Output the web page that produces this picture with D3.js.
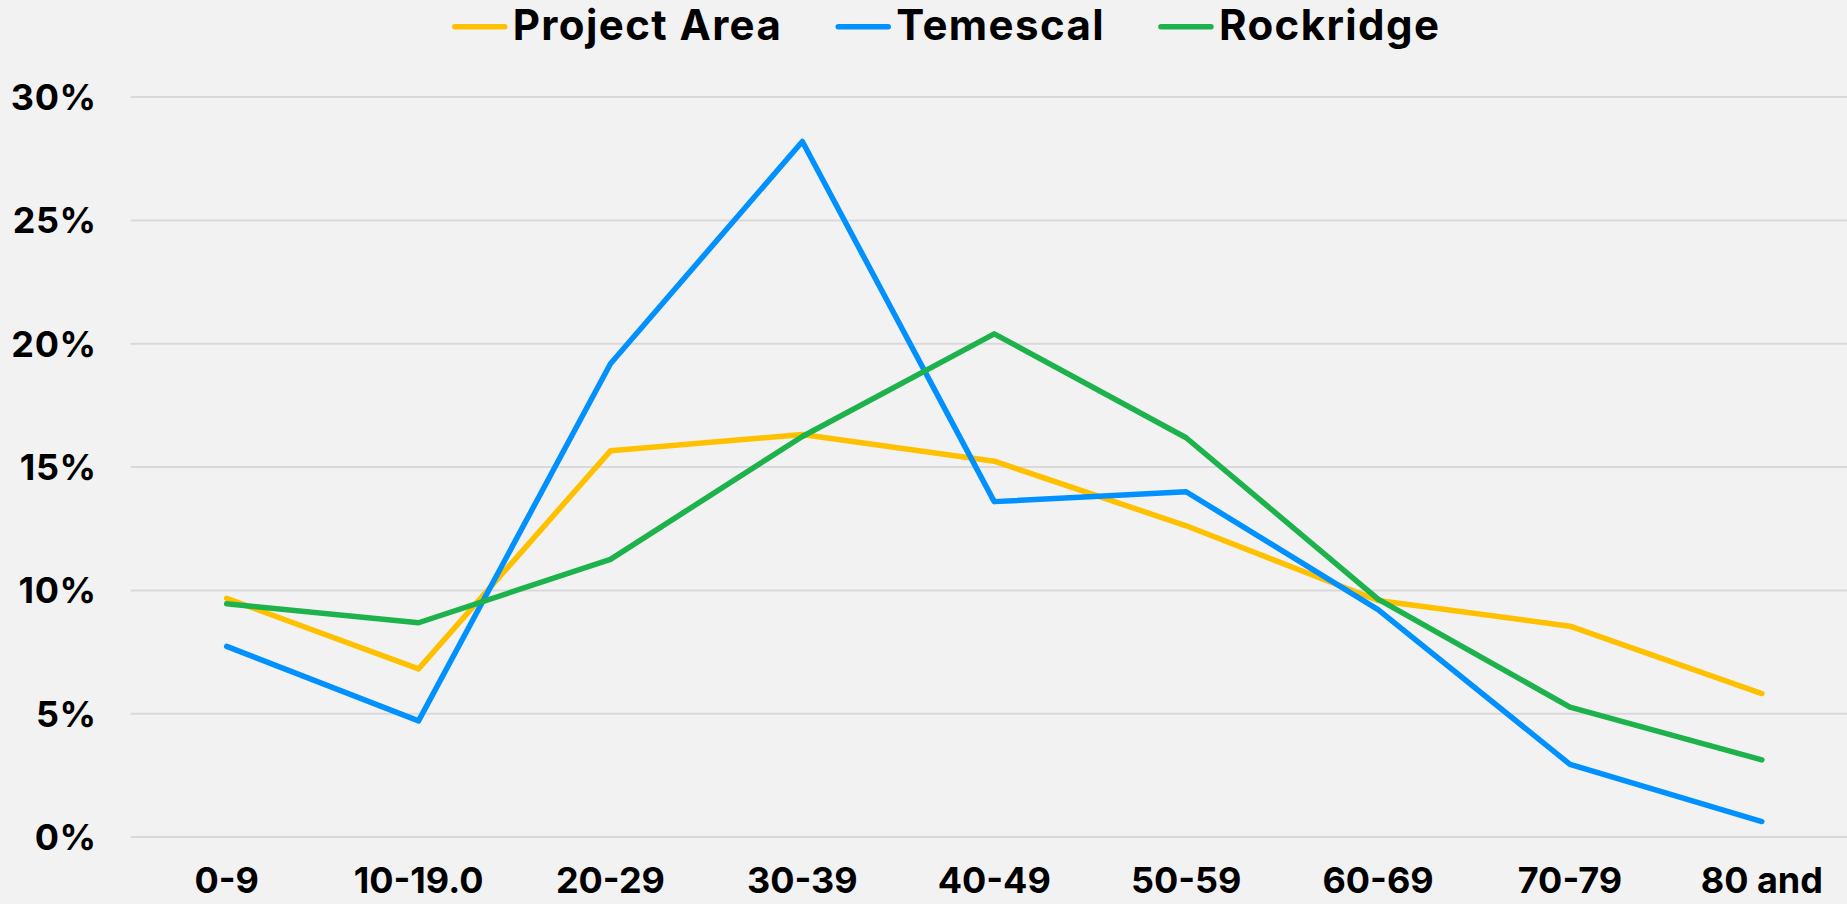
<!DOCTYPE html>
<html>
<head>
<meta charset="utf-8">
<script src="https://cdn.jsdelivr.net/npm/d3@7"></script>
<style>
  html, body { margin: 0; padding: 0; background: #F2F2F2; }
  svg { display: block; }
  text { font-family: Inter, "Open Sans", sans-serif; font-weight: 700; fill: #000; }
</style>
</head>
<body>
<svg id="chart" width="1847" height="904"></svg>
<script>
// Age distribution by area (share of population, %)
const categories = ["0-9", "10-19.0", "20-29", "30-39", "40-49", "50-59", "60-69", "70-79", "80 and"];
const projectArea = [9.66, 6.80, 15.64, 16.30, 15.22, 12.60, 9.57, 8.53, 5.80];
const temescal    = [7.71, 4.69, 19.17, 28.18, 13.58, 13.98, 9.20, 2.93, 0.61];
const rockridge   = [9.44, 8.67, 11.24, 16.22, 20.38, 16.17, 9.63, 5.25, 3.11];
const yTicks = [0, 5, 10, 15, 20, 25, 30];

const seriesNames = ["Project Area", "Temescal", "Rockridge"];
const seriesColors = ["#FFC000", "#0091FF", "#1DB24B"];
const seriesValues = [projectArea, temescal, rockridge];

const W = 1847, H = 904;
const plot = { left: 130.7, right: 1857.8, top: 96.6, bottom: 836.6 };

const svg = d3.select("#chart");
svg.append("rect").attr("width", W).attr("height", H).attr("fill", "#F2F2F2");

const x = d3.scaleBand().domain(categories).range([plot.left, plot.right]).padding(0);
const y = d3.scaleLinear().domain([0, 30]).range([plot.bottom, plot.top]);
const cx = c => x(c) + x.bandwidth() / 2;

// Gridlines and y labels
const yAxis = svg.append("g")
  .attr("transform", `translate(${plot.left},0)`)
  .call(d3.axisLeft(y).tickValues(yTicks).tickFormat(d => d + "%")
    .tickSize(-(plot.right - plot.left)).tickPadding(34));
yAxis.select(".domain").remove();
yAxis.selectAll(".tick line").attr("stroke", "#D9D9D9").attr("stroke-width", 2);
yAxis.selectAll(".tick text")
  .attr("font-size", 36).attr("font-family", null).attr("dy", "0.36em")
  .attr("letter-spacing", 0.6);

// Category labels
const xAxis = svg.append("g")
  .attr("transform", `translate(0,${plot.bottom})`)
  .call(d3.axisBottom(x).tickSize(0).tickPadding(0));
xAxis.select(".domain").remove();
xAxis.selectAll(".tick text")
  .attr("font-size", 36).attr("font-family", null)
  .attr("y", 56).attr("dy", 0);

// Series lines
const line = d3.line().x((d, i) => cx(categories[i])).y(d => y(d));
seriesValues.forEach((vals, i) => {
  svg.append("path")
    .datum(vals)
    .attr("d", line)
    .attr("fill", "none")
    .attr("stroke", seriesColors[i])
    .attr("stroke-width", 5.5)
    .attr("stroke-linejoin", "round")
    .attr("stroke-linecap", "round");
});

// Legend
const legend = svg.append("g");
let lx = 0;
seriesNames.forEach((name, i) => {
  const g = legend.append("g").attr("transform", `translate(${lx},0)`);
  g.append("line").attr("x1", 2).attr("x2", 52).attr("y1", 26.7).attr("y2", 26.7)
    .attr("stroke", seriesColors[i]).attr("stroke-width", 5.5).attr("stroke-linecap", "round");
  const t = g.append("text").attr("x", 60).attr("y", 40).attr("font-size", 42)
    .attr("letter-spacing", 1.4).text(name);
  lx += 60 + t.node().getComputedTextLength() + 54;
});
const legendWidth = lx - 54;
legend.attr("transform", `translate(${946.5 - legendWidth / 2},0)`);
</script>
</body>
</html>
